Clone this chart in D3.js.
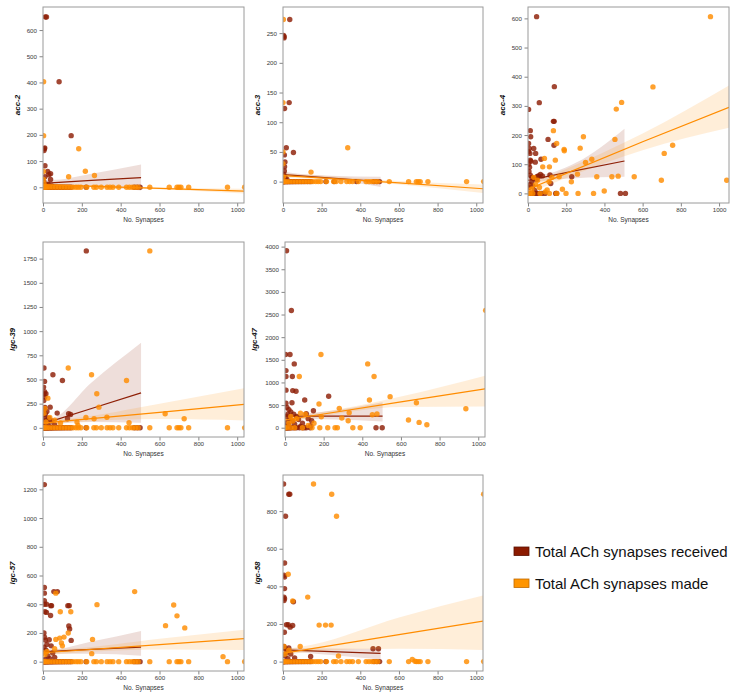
<!DOCTYPE html>
<html>
<head>
<meta charset="utf-8">
<script src="https://cdn.jsdelivr.net/npm/d3@7"></script>
<title>ACh synapses vs expression</title>
<style>
  body { margin: 0; background: #fff; }
  svg { display: block; font-family: "Liberation Sans", Arial, sans-serif; }
  .tick text { fill: #3a3a3a; font-size: 6.2px; }
  .tick line { stroke: #666; stroke-width: 0.8; }
</style>
</head>
<body>
<svg width="742" height="695"></svg>
<script>
// ---- data ----
const genes = ["acc-2", "acc-3", "acc-4", "lgc-39", "lgc-47", "lgc-57", "lgc-58"];
const xTicks = [0, 200, 400, 600, 800, 1000];
const xMax = [1035, 1035, 1052, 1035, 1035, 1035, 1035];
const yDomains = [[-60, 688], [-36, 294], [-33, 639], [-95, 1922], [-205, 4102], [-65, 1300], [-50, 992]];
const yTicks = [
  [0, 100, 200, 300, 400, 500, 600],
  [0, 50, 100, 150, 200, 250],
  [0, 100, 200, 300, 400, 500, 600],
  [0, 250, 500, 750, 1000, 1250, 1500, 1750],
  [0, 500, 1000, 1500, 2000, 2500, 3000, 3500, 4000],
  [0, 200, 400, 600, 800, 1000, 1200],
  [0, 200, 400, 600, 800]
];

// x positions of neurons with zero expression (shared by most genes)
const zeroReceived = [0, 2, 4, 6, 8, 10, 13, 16, 19, 22, 25, 28, 32, 36, 40, 44, 48, 53, 58, 64, 70, 76, 83, 90, 98, 106, 115, 125, 135, 145, 222, 470, 485, 500];
const zeroMade = [0, 5, 12, 22, 35, 50, 65, 80, 95, 110, 125, 140, 155, 170, 182, 195, 225, 262, 275, 300, 330, 345, 360, 390, 430, 445, 460, 475, 490, 550, 650, 690, 700, 710, 750, 950, 1038];
const acc4ZeroReceived = [0, 4, 8, 12, 18, 24, 30, 40, 50, 60, 72, 89, 145, 150, 484, 510];
const acc4ZeroMade = [0, 10, 25, 63, 112, 150, 199, 262, 343];
const lgc47ZeroReceived = [0, 3, 6, 9, 12, 15, 20, 25, 30, 40, 50, 60, 75, 90, 100, 110, 130, 471, 503];
const lgc47ZeroMade = [0, 10, 30, 50, 90, 140, 180, 221, 259, 271, 351, 389];

// non-zero points [synapses, expression]
const acc2Received = [[12, 650], [18, 650], [83, 403], [145, 197], [5, 140], [7, 147], [9, 150], [10, 82], [24, 60], [39, 52], [30, 48], [10, 40], [39, 30], [27, 12], [5, 20], [3, 10], [15, 8], [45, 5]];
const acc2Made = [[3, 403], [3, 197], [184, 147], [218, 61], [265, 45], [132, 40], [2, 60], [2, 30], [5, 15]];
const acc3Received = [[35, 273], [3, 246], [6, 244], [5, 242], [32, 133], [8, 123], [17, 57], [54, 49], [7, 45], [10, 33], [8, 25], [7, 18], [4, 12], [12, 6], [20, 4], [265, 0], [380, 0]];
const acc3Made = [[2, 273], [0, 133], [0, 50], [335, 57], [145, 16], [0, 30], [2, 8]];
const acc4Received = [[45, 606], [59, 311], [138, 366], [133, 247], [137, 247], [136, 165], [105, 185], [12, 215], [3, 288], [14, 194], [3, 171], [7, 154], [2, 143], [10, 137], [30, 154], [40, 137], [12, 114], [38, 107], [68, 117], [115, 63], [119, 34], [229, 57], [3, 100], [8, 90], [5, 75], [12, 62], [20, 55], [30, 50], [45, 48], [55, 60], [65, 65], [75, 60], [20, 40], [10, 30], [5, 20], [25, 25], [35, 10], [15, 110], [48, 58]];
const acc4Made = [[955, 606], [654, 365], [490, 312], [462, 289], [133, 215], [290, 194], [455, 185], [150, 171], [189, 151], [190, 146], [273, 155], [757, 165], [713, 137], [334, 117], [301, 106], [143, 114], [86, 120], [112, 91], [77, 91], [556, 57], [360, 57], [439, 57], [472, 59], [698, 45], [1040, 45], [227, 40], [259, 66], [163, 57], [180, 14], [399, 8], [90, 5], [100, 12], [60, 20], [40, 30], [20, 15], [30, 55], [50, 45], [110, 40], [125, 55]];
const lgc39Received = [[223, 1830], [51, 549], [100, 490], [5, 618], [8, 480], [3, 421], [8, 373], [5, 350], [15, 352], [9, 318], [4, 283], [37, 214], [73, 152], [132, 145], [142, 138], [126, 93], [10, 210], [6, 190], [20, 170], [12, 140], [8, 110], [30, 100], [18, 80], [45, 70], [5, 60], [25, 40], [60, 30], [12, 20], [40, 10]];
const lgc39Made = [[550, 1830], [130, 618], [250, 549], [430, 490], [277, 352], [288, 214], [25, 307], [443, 52], [629, 145], [727, 93], [329, 110], [263, 93], [175, 59], [180, 24], [221, 107], [35, 107], [10, 200], [5, 150], [60, 80], [90, 50], [15, 60]];
const lgc47Received = [[8, 3910], [33, 2590], [3, 1616], [26, 1616], [48, 1410], [5, 1262], [5, 1130], [38, 1130], [5, 830], [40, 820], [57, 804], [102, 612], [226, 694], [36, 553], [147, 376], [138, 155], [133, 44], [5, 540], [10, 450], [20, 400], [30, 350], [45, 300], [15, 300], [60, 250], [8, 250], [25, 200], [70, 180], [40, 150], [12, 120], [90, 100], [50, 80], [20, 60], [5, 30], [110, 310], [120, 200], [80, 30]];
const lgc47Made = [[1038, 2590], [186, 1616], [428, 1410], [461, 1130], [74, 1130], [437, 612], [544, 686], [680, 553], [936, 420], [176, 524], [281, 428], [332, 332], [294, 214], [327, 155], [639, 170], [694, 118], [734, 66], [452, 288], [476, 303], [105, 300], [188, 243], [60, 200], [40, 150], [150, 100], [120, 50], [80, 320], [30, 250], [20, 100]];
const lgc57Received = [[7, 1233], [7, 517], [7, 477], [56, 488], [74, 488], [7, 425], [7, 400], [18, 400], [40, 390], [44, 390], [128, 390], [135, 390], [10, 348], [18, 343], [39, 322], [133, 249], [137, 228], [145, 148], [5, 200], [8, 170], [12, 150], [32, 153], [20, 120], [42, 110], [5, 100], [15, 80], [50, 60], [25, 40], [60, 30], [35, 20], [10, 15]];
const lgc57Made = [[472, 488], [673, 395], [690, 319], [278, 397], [89, 348], [143, 348], [66, 477], [631, 251], [730, 235], [130, 200], [255, 155], [251, 56], [927, 35], [66, 155], [86, 164], [108, 171], [95, 130], [100, 110], [60, 90], [20, 70], [10, 50], [0, 60]];
const lgc58Received = [[3, 944], [30, 890], [35, 890], [13, 773], [8, 524], [5, 459], [8, 450], [8, 388], [5, 343], [8, 334], [5, 325], [54, 318], [18, 196], [27, 196], [37, 183], [50, 192], [7, 156], [143, 27], [466, 68], [494, 68], [5, 80], [12, 70], [30, 72], [20, 50], [40, 40], [10, 30], [60, 20], [25, 15]];
const lgc58Made = [[158, 944], [252, 890], [277, 773], [27, 464], [50, 322], [128, 343], [187, 194], [220, 194], [249, 194], [89, 80], [287, 30], [669, 11], [683, 2], [1038, 890], [5, 80], [30, 60], [10, 40]];

// regression fits: [x, fit, lower CI, upper CI]
const acc2ReceivedFit = [[0, 15, 0, 30], [40, 17, 5, 28], [250, 26, 2, 52], [505, 37, -12, 87]];
const acc2MadeFit = [[0, 10, 3, 17], [150, 6.4, 3, 10], [600, -4.5, -8, -1], [1035, -15, -24, -6]];
const acc3ReceivedFit = [[0, 12, 6, 18], [40, 11, 8, 15], [250, 6, 3, 10], [505, 0, -9, 8]];
const acc3MadeFit = [[0, 10, 6, 14], [150, 7, 5, 11], [600, -2, -5, 1], [1035, -12, -19, -5]];
const acc4ReceivedFit = [[0, 45, 28, 62], [40, 50, 38, 62], [250, 78, 52, 105], [505, 111, 57, 222]];
const acc4MadeFit = [[0, 14, 0, 30], [150, 55, 40, 70], [600, 177, 148, 205], [1052, 295, 225, 370]];
const lgc39ReceivedFit = [[0, 41, 0, 90], [40, 66, 35, 95], [250, 200, 60, 470], [505, 362, 52, 880]];
const lgc39MadeFit = [[0, 48, 15, 80], [150, 76, 55, 100], [600, 160, 90, 250], [1035, 242, 76, 410]];
const lgc47ReceivedFit = [[0, 258, 170, 340], [40, 257, 200, 300], [250, 256, 180, 380], [505, 255, 140, 560]];
const lgc47MadeFit = [[0, 170, 100, 240], [150, 270, 220, 320], [600, 570, 460, 690], [1035, 860, 470, 1150]];
const lgc57ReceivedFit = [[0, 70, 45, 95], [40, 72, 55, 85], [250, 85, 55, 140], [505, 101, 42, 214]];
const lgc57MadeFit = [[0, 62, 40, 85], [150, 76, 60, 92], [600, 119, 85, 160], [1035, 160, 82, 223]];
const lgc58ReceivedFit = [[0, 62, 45, 80], [40, 61, 50, 72], [250, 53, 35, 70], [505, 44, 11, 68]];
const lgc58MadeFit = [[0, 44, 25, 65], [150, 69, 55, 90], [600, 143, 68, 235], [1035, 215, 62, 352]];

const legendLabels = ["Total ACh synapses received", "Total ACh synapses made"];

// ---- assemble ----
const withZeros = (pts, zs) => zs.map(x => [x, 0]).concat(pts);
const receivedSets = [
  withZeros(acc2Received, zeroReceived), withZeros(acc3Received, zeroReceived),
  withZeros(acc4Received, acc4ZeroReceived), withZeros(lgc39Received, zeroReceived),
  withZeros(lgc47Received, lgc47ZeroReceived), withZeros(lgc57Received, zeroReceived),
  withZeros(lgc58Received, zeroReceived)
];
const madeSets = [
  withZeros(acc2Made, zeroMade), withZeros(acc3Made, zeroMade),
  withZeros(acc4Made, acc4ZeroMade), withZeros(lgc39Made, zeroMade),
  withZeros(lgc47Made, lgc47ZeroMade), withZeros(lgc57Made, zeroMade),
  withZeros(lgc58Made, zeroMade)
];
const receivedFits = [acc2ReceivedFit, acc3ReceivedFit, acc4ReceivedFit, lgc39ReceivedFit, lgc47ReceivedFit, lgc57ReceivedFit, lgc58ReceivedFit];
const madeFits = [acc2MadeFit, acc3MadeFit, acc4MadeFit, lgc39MadeFit, lgc47MadeFit, lgc57MadeFit, lgc58MadeFit];

// panel boxes: left, top, width, height ; label offset
const layout = [
  [43, 7, 201, 196, 23], [283, 7, 200, 196, 23], [528, 7, 201, 196, 23],
  [43, 242, 201, 195, 28], [285, 242, 200, 195, 28],
  [43, 475, 201, 196, 28], [283, 475, 200, 196, 23]
];

const RED = "#8e1f06", ORANGE = "#ff8c00";
const svg = d3.select("svg");

genes.forEach((name, i) => {
  const [left, top, w, h, labOff] = layout[i];
  const x = d3.scaleLinear().domain([0, xMax[i]]).range([0, w]);
  const y = d3.scaleLinear().domain(yDomains[i]).range([h, 0]);
  const g = svg.append("g").attr("transform", `translate(${left},${top})`);

  const clipId = "clip" + i;
  g.append("clipPath").attr("id", clipId)
    .append("rect").attr("width", w).attr("height", h);

  const plot = g.append("g").attr("clip-path", `url(#${clipId})`);

  const series = [
    { pts: receivedSets[i], fit: receivedFits[i], color: RED },
    { pts: madeSets[i], fit: madeFits[i], color: ORANGE }
  ];
  series.forEach(s => {
    plot.append("g").selectAll("circle")
      .data(s.pts).enter().append("circle")
      .attr("cx", d => x(d[0])).attr("cy", d => y(d[1]))
      .attr("r", 2.7)
      .attr("fill", s.color).attr("fill-opacity", 0.82);
    plot.append("path").datum(s.fit)
      .attr("d", d3.area().curve(d3.curveMonotoneX)
        .x(d => x(d[0])).y0(d => y(d[2])).y1(d => y(d[3])))
      .attr("fill", s.color).attr("fill-opacity", 0.15);
    plot.append("path").datum(s.fit)
      .attr("d", d3.line().x(d => x(d[0])).y(d => y(d[1])))
      .attr("fill", "none").attr("stroke", s.color).attr("stroke-width", 1.2);
  });

  g.append("g").attr("transform", `translate(0,${h})`)
    .call(d3.axisBottom(x).tickValues(xTicks).tickFormat(d3.format("d")).tickSize(3.5).tickPadding(1.5))
    .call(a => a.select(".domain").remove());
  g.append("g")
    .call(d3.axisLeft(y).tickValues(yTicks[i]).tickFormat(d3.format("d")).tickSize(3.5).tickPadding(2.5))
    .call(a => a.select(".domain").remove());

  g.append("rect").attr("width", w).attr("height", h)
    .attr("fill", "none").attr("stroke", "#9a9a9a").attr("stroke-width", 1);

  g.append("text").attr("x", w / 2).attr("y", h + 18.5)
    .attr("text-anchor", "middle").attr("font-size", 6.5).attr("fill", "#333")
    .text("No. Synapses");
  g.append("text")
    .attr("transform", `translate(${-labOff},${h / 2}) rotate(-90)`)
    .attr("text-anchor", "middle").attr("font-size", 8)
    .attr("font-weight", "bold").attr("font-style", "italic").attr("fill", "#111")
    .text(name);
});

// legend
const legend = svg.append("g").attr("transform", "translate(514,547)");
[RED, ORANGE].forEach((c, k) => {
  const row = legend.append("g").attr("transform", `translate(0,${k * 32})`);
  row.append("rect").attr("width", 15).attr("height", 8.5)
    .attr("fill", k === 0 ? "#8b1a00" : "#ff9500")
    .attr("stroke", k === 0 ? "#5a1000" : "#c06a00").attr("stroke-width", 0.8);
  row.append("text").attr("x", 21).attr("y", 9.5)
    .attr("font-size", 15).attr("fill", "#111")
    .text(legendLabels[k]);
});
</script>
</body>
</html>
